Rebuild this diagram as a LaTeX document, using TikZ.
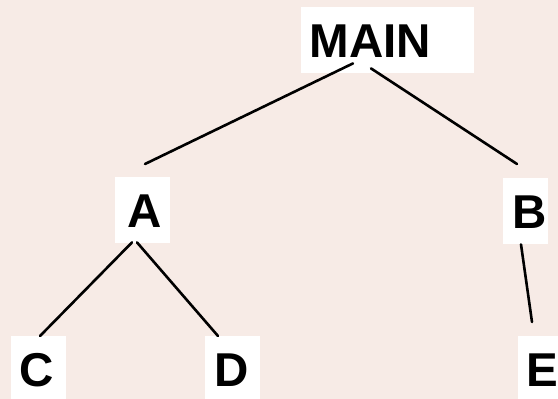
\documentclass[tikz,border=0pt]{standalone}
\usepackage{fontspec}
\setmainfont{Liberation Sans}
\definecolor{paper}{RGB}{247,235,230}
\begin{document}
\begin{tikzpicture}[x=1pt,y=-1pt,
  tbox/.style={fill=white, font=\bfseries\fontsize{47.5}{47.5}\selectfont,
    text height=34pt, text depth=0pt, inner ysep=16pt, align=left,
    anchor=north west},
  link/.style={line width=2.6pt, line cap=round}]
  % page and its pink paper
  \useasboundingbox (0,0) rectangle (558,399);
  \clip (0,0) rectangle (558,399);
  \fill[paper] (0,0) rectangle (558,399);

  % tree nodes
  \node[tbox, inner xsep=8.5pt, text width=156pt] (main) at (301,7) {MAIN};
  \node[tbox, inner xsep=12pt,  text width=31pt]  (a)    at (115,177) {A};
  \node[tbox, inner xsep=9.5pt, text width=26pt]  (b)    at (503,178) {B};
  \node[tbox, inner xsep=8.5pt, text width=38pt]  (c)    at (11,336) {C};
  \node[tbox, inner xsep=9.5pt, text width=36pt]  (d)    at (205,336) {D};
  \node[tbox, inner xsep=8.5pt, text width=38pt]  (e)    at (518,336) {E};

  % connectors
  \draw[link] ([xshift=52pt,yshift=10pt]main.south west) -- ([xshift=30pt,yshift=13pt]a.north west);
  \draw[link] ([xshift=70pt,yshift=5pt]main.south west) -- ([xshift=14pt,yshift=14pt]b.north west);
  \draw[link] ([xshift=17pt,yshift=1pt]a.south west) -- ([xshift=29pt]c.north west);
  \draw[link] ([xshift=22pt,yshift=1pt]a.south west) -- ([xshift=13pt]d.north west);
  \draw[link] ([xshift=18pt]b.south west) -- ([xshift=14pt,yshift=14pt]e.north west);
\end{tikzpicture}
\end{document}
